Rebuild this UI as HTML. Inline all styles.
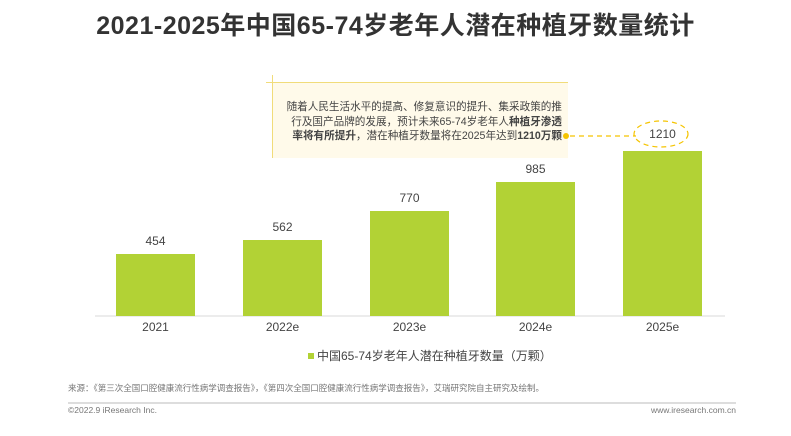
<!DOCTYPE html>
<html><head><meta charset="utf-8"><style>
body{margin:0;width:791px;height:436px;background:#fff;position:relative;overflow:hidden;font-family:"Liberation Sans","Noto Sans CJK SC",sans-serif;color:#333}
.a{position:absolute}
.bar{position:absolute;background:#b2d235;width:79px}
.v{position:absolute;width:79px;text-align:center;font-size:12px;color:#444}
.x{position:absolute;width:79px;text-align:center;font-size:12px;color:#444;top:320px}
</style></head><body>
<div class="a" style="left:0;width:791px;top:6px;text-align:center;font-size:25px;font-weight:bold;color:#333;letter-spacing:0.5px">2021-2025年中国65-74岁老年人潜在种植牙数量统计</div>

<div class="a" style="left:272px;top:82px;width:296px;height:76px;background:#fffaea"></div>
<div class="a" style="left:266px;top:82px;width:302px;height:1px;background:#f1dc7a"></div>
<div class="a" style="left:272px;top:75px;width:1px;height:83px;background:#f1dc7a"></div>
<div class="a" style="left:270px;top:100px;width:292px;font-size:10.6px;line-height:14.5px;color:#444;text-align:right;white-space:nowrap">随着人民生活水平的提高、修复意识的提升、集采政策的推<br>行及国产品牌的发展，预计未来65-74岁老年人<b>种植牙渗透</b><br><b>率将有所提升</b>，潜在种植牙数量将在2025年达到<b>1210万颗</b></div>
<svg class="a" style="left:0;top:0" width="791" height="436">
<circle cx="566" cy="136" r="3" fill="#f5c400"/>
<line x1="570" y1="136" x2="636" y2="136" stroke="#f5c400" stroke-width="1.2" stroke-dasharray="5,4"/>
<ellipse cx="661" cy="134" rx="27" ry="13" fill="none" stroke="#f5c400" stroke-width="1.2" stroke-dasharray="5,4"/>
<line x1="95" y1="316" x2="725" y2="316" stroke="#d9d9d9" stroke-width="1"/>
<line x1="68" y1="403" x2="736" y2="403" stroke="#bbb" stroke-width="1"/>
</svg>

<div class="bar" style="left:116px;top:254px;height:62px"></div>
<div class="bar" style="left:243px;top:240px;height:76px"></div>
<div class="bar" style="left:370px;top:211px;height:105px"></div>
<div class="bar" style="left:496px;top:182px;height:134px"></div>
<div class="bar" style="left:623px;top:151px;height:165px"></div>
<div class="v" style="left:116px;top:234px">454</div>
<div class="v" style="left:243px;top:220px">562</div>
<div class="v" style="left:370px;top:191px">770</div>
<div class="v" style="left:496px;top:162px">985</div>
<div class="v" style="left:623px;top:127px">1210</div>
<div class="x" style="left:116px">2021</div>
<div class="x" style="left:243px">2022e</div>
<div class="x" style="left:370px">2023e</div>
<div class="x" style="left:496px">2024e</div>
<div class="x" style="left:623px">2025e</div>

<div class="a" style="left:308px;top:347px;font-size:12px;color:#444"><span style="display:inline-block;width:6px;height:6px;background:#b2d235;margin-right:3px;vertical-align:1px"></span>中国65-74岁老年人潜在种植牙数量（万颗）</div>
<div class="a" style="left:68px;top:382px;font-size:8.5px;color:#777">来源：《第三次全国口腔健康流行性病学调查报告》，《第四次全国口腔健康流行性病学调查报告》，艾瑞研究院自主研究及绘制。</div>
<div class="a" style="left:68px;top:405px;font-size:8.5px;color:#777">©2022.9 iResearch Inc.</div>
<div class="a" style="right:55px;top:405px;font-size:8.5px;color:#777">www.iresearch.com.cn</div>
</body></html>
